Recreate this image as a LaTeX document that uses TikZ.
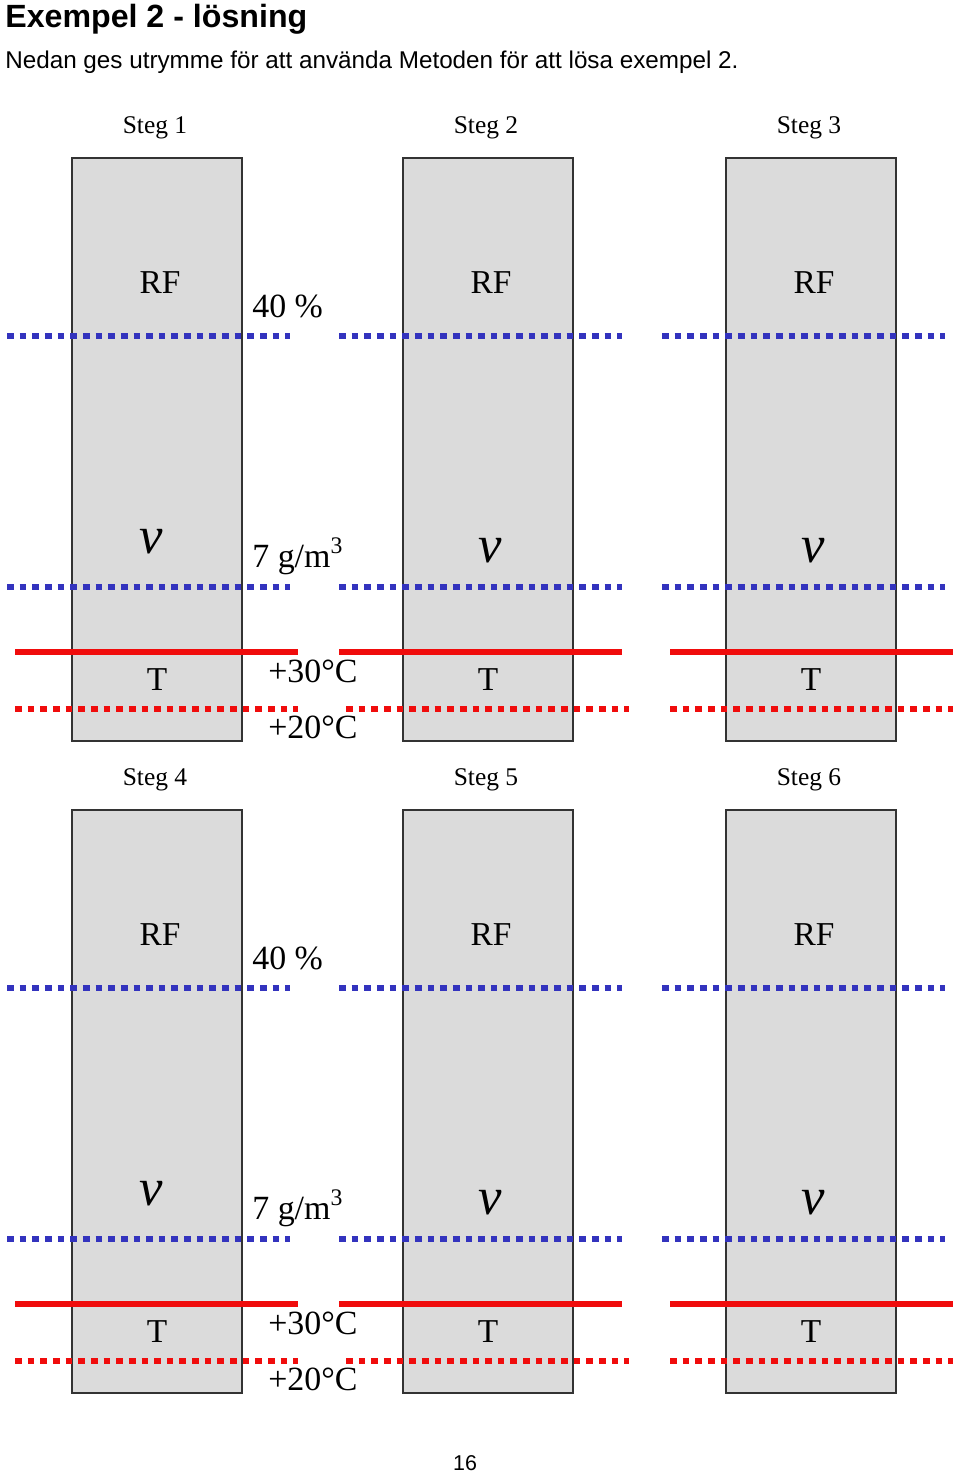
\documentclass[tikz,border=0pt]{standalone}
\usepackage{fontspec}
\setmainfont{Liberation Serif}
\newfontfamily\arialfont{Liberation Sans}
\definecolor{linjeblue}{RGB}{51,51,190}
\definecolor{linjered}{RGB}{240,12,12}

\begin{document}
\begin{tikzpicture}[x=0.02cm, y=-0.02cm, panel/.style={draw=black!80,line width=0.7pt,fill=black!14}, bluedot/.style={line width=3.7pt,linjeblue,dash pattern=on 3.8pt off 3.4pt}, redline/.style={line width=3.4pt,linjered}, reddot/.style={line width=3.7pt,linjered,dash pattern=on 3.8pt off 3.4pt}, lbl/.style={anchor=base,inner sep=0pt,font=\fontsize{19}{22}\selectfont}, val/.style={anchor=base west,inner sep=0pt,font=\fontsize{19.3}{22}\selectfont}, steglbl/.style={anchor=base,inner sep=0pt,font=\fontsize{14.5}{17}\selectfont}, vlbl/.style={anchor=base,inner sep=0pt,font=\fontsize{30}{34}\selectfont\itshape}]
\useasboundingbox (0,0) rectangle (960,1474);
\node[anchor=base west,inner sep=0pt,font=\arialfont\bfseries\fontsize{18.3}{22}\selectfont] (titel) at (5,27) {Exempel 2 - lösning};
\node[anchor=base west,inner sep=0pt,font=\arialfont\fontsize{13.8}{16}\selectfont] (intro) at (5,68) {Nedan ges utrymme för att använda Metoden för att lösa exempel 2.};
% two rows of three panels
\foreach \dy/\k in {0/0,652/3} {
  \foreach \bx/\i/\xb/\xs/\xd/\vx/\vy in {72/1/7/15/15/79/553, 403/2/339/339/346/87/562, 726/3/662/670/670/87/562} {
    \pgfmathtruncatemacro\n{\i+\k}
    \draw[panel] ({\bx},{158+\dy}) rectangle +(170,583);
    \node[steglbl] (steg\n) at ({\bx+83},{133+\dy}) {Steg \n};
    \node[lbl] (rf\n) at ({\bx+88},{293+\dy}) {RF};
    \node[vlbl] (v\n) at ({\bx+\vx},{\vy+\dy}) {v};
    \node[lbl] (t\n) at ({\bx+85},{690+\dy}) {T};
    \draw[bluedot] ({\xb},{336+\dy}) -- +(283,0);
    \draw[bluedot] ({\xb},{587+\dy}) -- +(283,0);
    \draw[redline] ({\xs},{652+\dy}) -- +(283,0);
    \draw[reddot] ({\xd},{709+\dy}) -- +(283,0);
  }
  % given values, first panel of each row
  \node[val] (rfval\k) at (252,{317+\dy}) {40 \%};
  \node[val] (vval\k) at (252,{567+\dy}) {7 g/m\textsuperscript{3}};
  \node[val] (tvarm\k) at (268,{682+\dy}) {+30°C};
  \node[val] (tkall\k) at (268,{738+\dy}) {+20°C};
}
\node[anchor=base,inner sep=0pt,font=\arialfont\fontsize{12.2}{14}\selectfont] (sida) at (465,1470) {16};
\end{tikzpicture}
\end{document}
